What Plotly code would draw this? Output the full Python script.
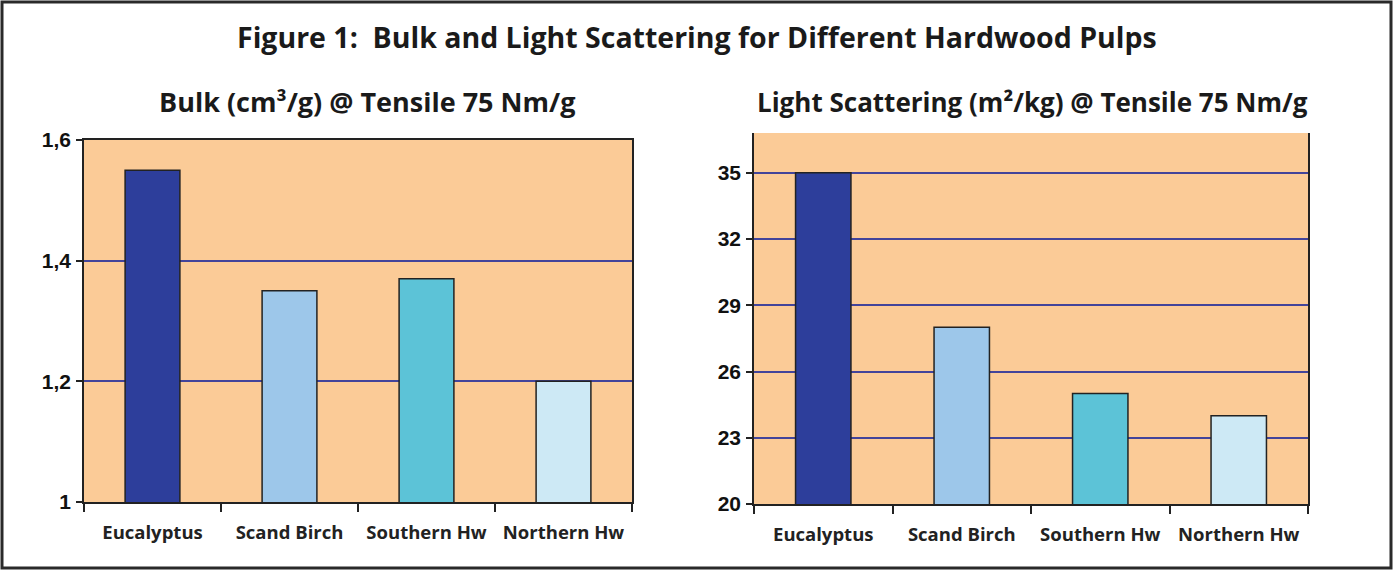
import plotly.graph_objects as go

categories = ["Eucalyptus", "Scand Birch", "Southern Hw", "Northern Hw"]
bulk_values = [1.55, 1.35, 1.37, 1.20]
scatter_values = [35, 28, 25, 24]
bar_colors = ["#2D3E9B", "#9DC7EA", "#5CC3D7", "#CDE9F5"]

bulk_ticks = [1.0, 1.2, 1.4, 1.6]
bulk_ticktext = ["1", "1,2", "1,4", "1,6"]
scatter_ticks = [20, 23, 26, 29, 32, 35]

title_main = "Figure 1:  Bulk and Light Scattering for Different Hardwood Pulps"
title_left = "Bulk (cm³/g) @ Tensile 75 Nm/g"
title_right = "Light Scattering (m²/kg) @ Tensile 75 Nm/g"

W, H = 1393, 571
BG = "#FBCB97"
GRID = "#43449A"
DARK = "#222222"
TICKFONT = dict(family="Liberation Sans", size=21, color="#111111", weight="bold")
CATFONT = dict(family="Open Sans, Lato, sans-serif", size=18.5, color="#222222", weight="bold")
TITLEFONT = "Open Sans, Lato, sans-serif"

def px_x(v):
    return v / W

def px_y(v):
    return 1 - v / H

fig = go.Figure()
fig.add_trace(go.Bar(x=categories, y=bulk_values, marker=dict(color=bar_colors, line=dict(color=DARK, width=1.5)),
                     width=0.4, xaxis="x", yaxis="y", showlegend=False))
fig.add_trace(go.Bar(x=categories, y=scatter_values, marker=dict(color=bar_colors, line=dict(color=DARK, width=1.5)),
                     width=0.4, xaxis="x2", yaxis="y2", showlegend=False))

fig.update_layout(
    width=W, height=H,
    autosize=False,
    margin=dict(l=0, r=0, t=0, b=0, pad=0, autoexpand=False),
    paper_bgcolor="white",
    plot_bgcolor=BG,
    xaxis=dict(domain=[px_x(84), px_x(632)], anchor="y", type="category", automargin=False,
               showline=True, linecolor=DARK, linewidth=2, mirror=True,
               ticks="outside", tickson="boundaries", ticklen=8, tickcolor=DARK, tickwidth=1.5,
               tickfont=CATFONT, ticklabelstandoff=13, showgrid=False),
    yaxis=dict(domain=[px_y(502), px_y(140)], anchor="x", range=[1.0, 1.6], automargin=False,
               tickvals=bulk_ticks, ticktext=bulk_ticktext,
               showline=True, linecolor=DARK, linewidth=1.5, mirror=True,
               ticks="outside", ticklen=6, tickcolor=DARK, tickwidth=1.5,
               tickfont=TICKFONT, ticklabelstandoff=1,
               showgrid=True, gridcolor=GRID, gridwidth=2, zeroline=False),
    xaxis2=dict(domain=[px_x(754), px_x(1308)], anchor="y2", type="category", automargin=False,
                showline=True, linecolor=DARK, linewidth=2, mirror=False,
                ticks="outside", tickson="boundaries", ticklen=8, tickcolor=DARK, tickwidth=1.5,
                tickfont=CATFONT, ticklabelstandoff=13, showgrid=False),
    yaxis2=dict(domain=[px_y(504), px_y(133)], anchor="x2", range=[20, 36.8], automargin=False,
                tickvals=scatter_ticks,
                showline=True, linecolor=DARK, linewidth=1.5, mirror=True,
                ticks="outside", ticklen=6, tickcolor=DARK, tickwidth=1.5,
                tickfont=TICKFONT, ticklabelstandoff=1,
                showgrid=True, gridcolor=GRID, gridwidth=2, zeroline=False),
)

fig.add_annotation(text=title_main, xref="paper", yref="paper", x=px_x(697), y=px_y(37),
                   showarrow=False, xanchor="center", yanchor="middle",
                   font=dict(family=TITLEFONT, size=28.5, color="#1a1a1a", weight="bold"))
fig.add_annotation(text=title_left, xref="paper", yref="paper", x=px_x(367), y=px_y(102),
                   showarrow=False, xanchor="center", yanchor="middle",
                   font=dict(family=TITLEFONT, size=27, color="#1a1a1a", weight="bold"))
fig.add_annotation(text=title_right, xref="paper", yref="paper", x=px_x(1032), y=px_y(102),
                   showarrow=False, xanchor="center", yanchor="middle",
                   font=dict(family=TITLEFONT, size=26, color="#1a1a1a", weight="bold"))

fig.add_shape(type="rect", xref="paper", yref="paper",
              x0=px_x(2), x1=px_x(1391), y0=px_y(568), y1=px_y(2),
              line=dict(color="#2a2a2a", width=3), fillcolor="rgba(0,0,0,0)", layer="above")

fig.write_html("out.html", config={"displayModeBar": False},
               post_script="document.body.style.margin='0';document.body.style.overflow='hidden';")
